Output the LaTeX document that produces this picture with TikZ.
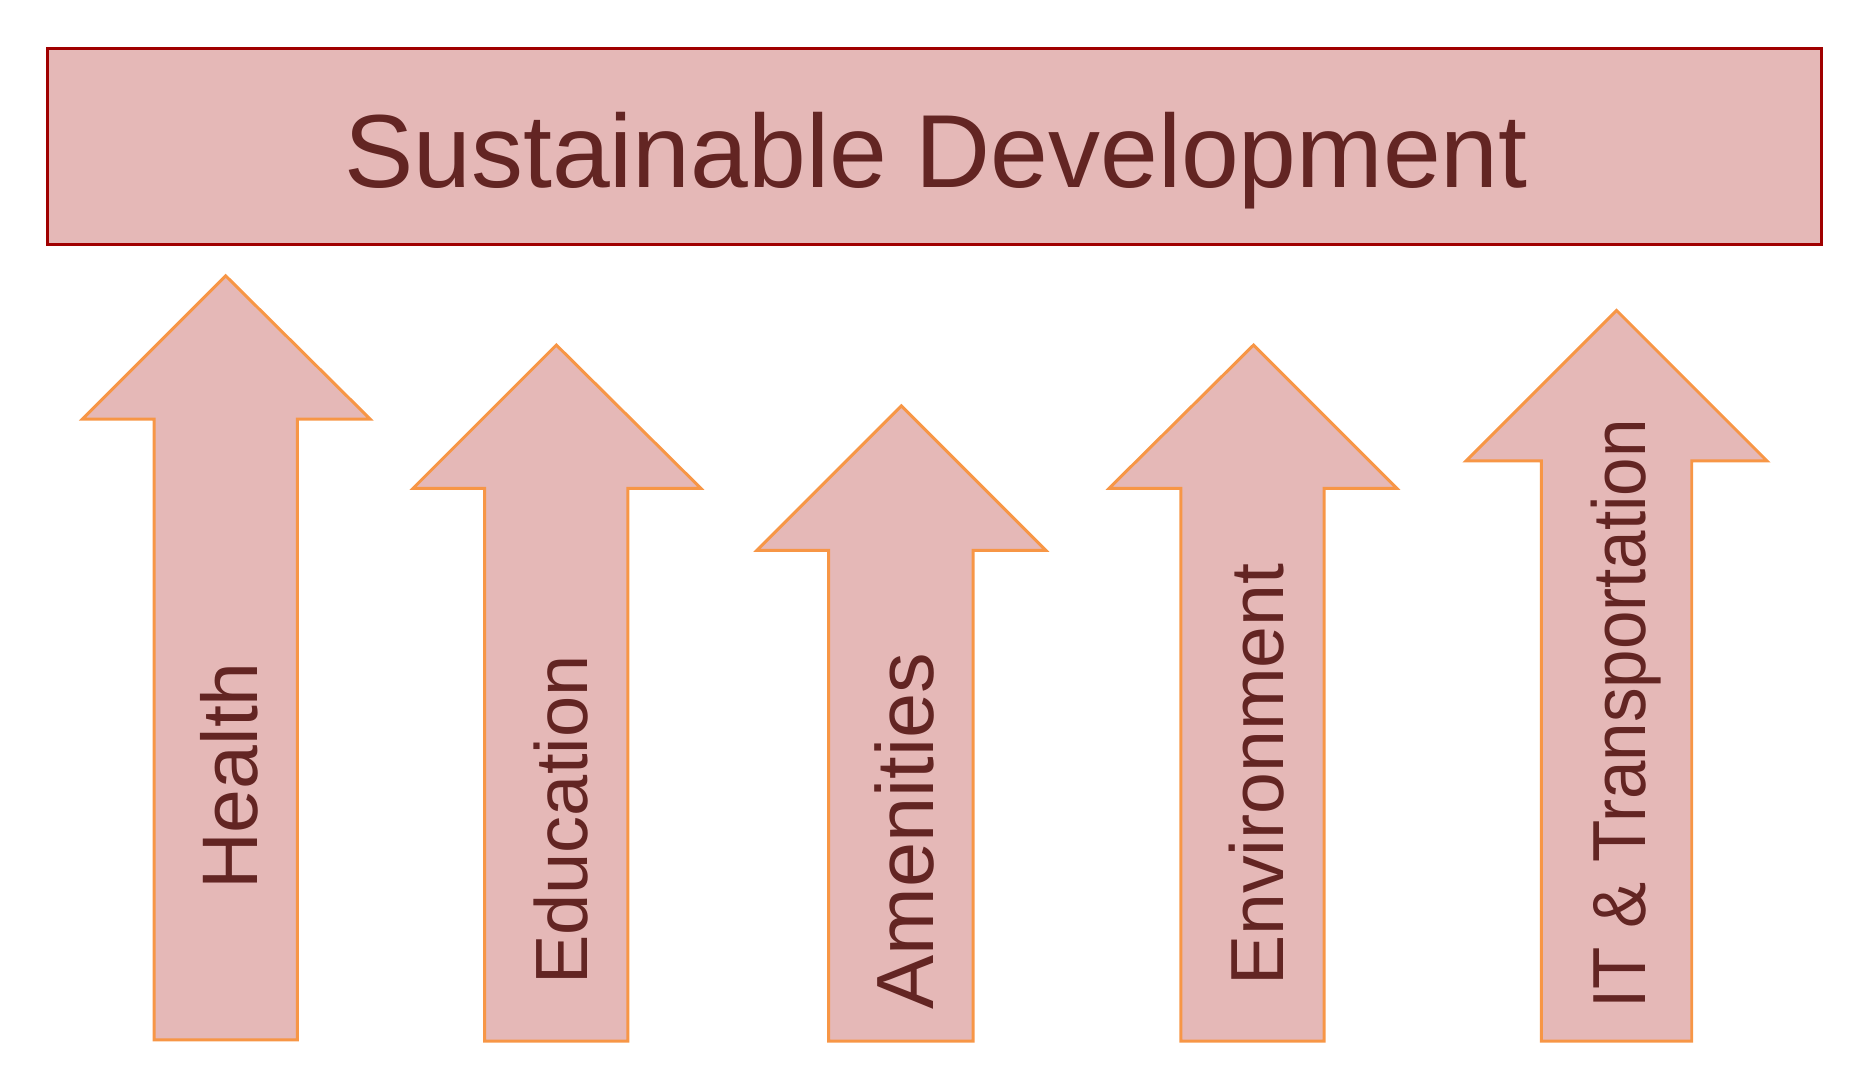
\documentclass[tikz,border=0pt]{standalone}
\usepackage{fontspec}
\setmainfont{Liberation Sans}
\definecolor{pinkfill}{HTML}{E5B8B7}
\definecolor{arrowline}{HTML}{F79646}
\definecolor{boxline}{HTML}{A00000}
\definecolor{labeltext}{HTML}{632523}
\newcommand\uparr[8]{%
  \draw[uparrowshape] (#1,#2) -- (#5,#3) -- (#7,#3) -- (#7,#8) -- (#6,#8) -- (#6,#3) -- (#4,#3) -- cycle;}
\begin{document}
\begin{tikzpicture}[x=1pt,y=-1pt,
  uparrowshape/.style={fill=pinkfill, draw=arrowline, line width=2.5pt, line join=miter},
  titlebox/.style={fill=pinkfill, draw=boxline, line width=2.5pt},
  lbl/.style={rotate=90, anchor=base, text=labeltext, inner sep=0pt}]
\useasboundingbox (0,0) rectangle (1568,909);
\draw[titlebox] (40,41) rectangle (1526,205);
\node[anchor=base, text=labeltext, inner sep=0pt, font=\fontsize{87}{87}\selectfont] (title) at (784,157) {Sustainable Development};
% arrows: tipx, tipy, basey, headL, headR, shaftL, shaftR, bottom
\uparr{189}{231}{351}{69}{310}{129}{249}{871}
\uparr{466}{289}{409}{346}{587}{406}{526}{872}
\uparr{755}{340}{461}{634}{876}{694}{815}{872}
\uparr{1050}{289}{409}{929}{1170}{989}{1109}{872}
\uparr{1354}{260}{386}{1228}{1480}{1291}{1417}{872}
\node[lbl, font=\fontsize{66}{66}\selectfont] (health) at (216,650) {Health};
\node[lbl, font=\fontsize{62}{62}\selectfont] (education) at (492,687) {Education};
\node[lbl, font=\fontsize{68}{68}\selectfont] (amenities) at (782,696) {Amenities};
\node[lbl, font=\fontsize{63}{63}\selectfont] (environment) at (1075,649) {Environment};
\node[lbl, font=\fontsize{63}{63}\selectfont] (it) at (1378,598) {\scalebox{0.92}[1]{IT \& Transportation}};
\end{tikzpicture}
\end{document}
